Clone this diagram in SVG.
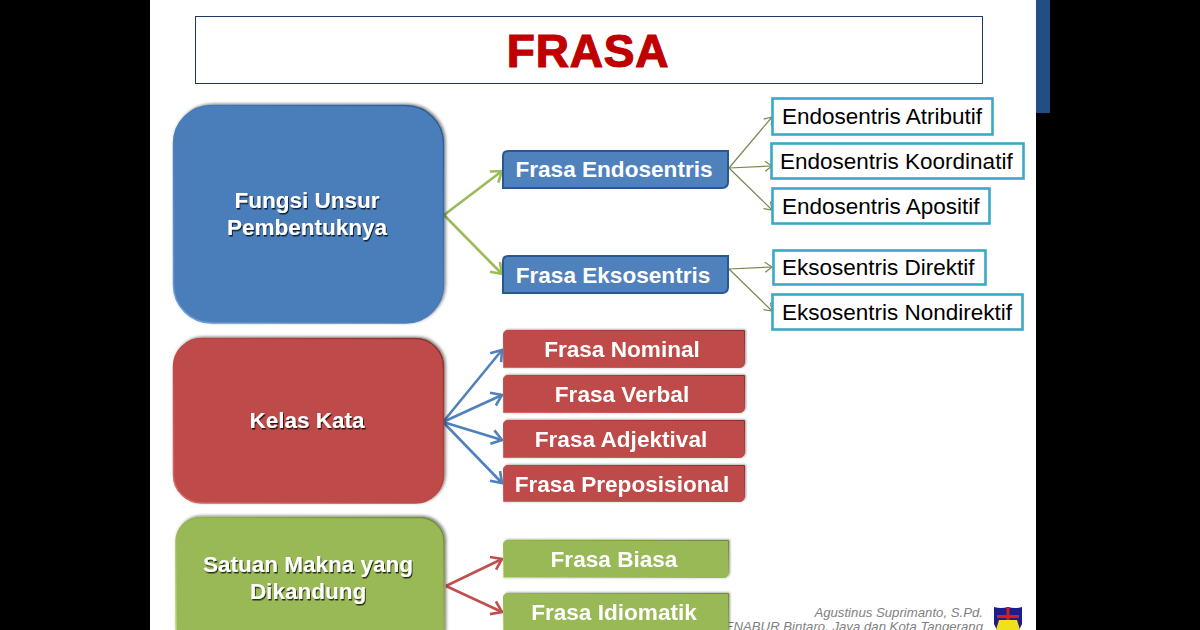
<svg xmlns="http://www.w3.org/2000/svg" width="1200" height="630" viewBox="0 0 1200 630">
<style>
.lbl{font-family:"Liberation Sans",Arial,sans-serif;font-weight:700;fill:#fff;text-anchor:middle;font-size:22.6px}
.big{font-size:22.5px;filter:url(#ts)}
.sub{font-family:"Liberation Sans",Arial,sans-serif;fill:#000;font-size:22.5px}
.cy{fill:#fff;stroke:#3aa9c6;stroke-width:2.6}
.foot{font-family:"Liberation Sans",Arial,sans-serif;font-style:italic;fill:#7f7f7f;font-size:13.2px;text-anchor:end}
.thin{stroke:#77864f;stroke-width:1.2;fill:none;marker-end:url(#open)}
.g{stroke:#9bbb59;stroke-width:2.6;fill:none;marker-end:url(#ag)}
.b{stroke:#4f81bd;stroke-width:2.6;fill:none;marker-end:url(#ab)}
.r{stroke:#c0504d;stroke-width:2.6;fill:none;marker-end:url(#ar)}
</style>
<defs>
<marker id="open" markerUnits="userSpaceOnUse" markerWidth="14" markerHeight="14" refX="11" refY="7" orient="auto"><path d="M4 2L11 7L4 12" fill="none" stroke="#77864f" stroke-width="1.2"/></marker>
<marker id="ag" markerUnits="userSpaceOnUse" markerWidth="16" markerHeight="18" refX="13" refY="9" orient="auto"><path d="M3 2L13 9L3 16" fill="none" stroke="#9bbb59" stroke-width="2.6"/></marker>
<marker id="ab" markerUnits="userSpaceOnUse" markerWidth="16" markerHeight="18" refX="13" refY="9" orient="auto"><path d="M3 2L13 9L3 16" fill="none" stroke="#4f81bd" stroke-width="2.6"/></marker>
<marker id="ar" markerUnits="userSpaceOnUse" markerWidth="16" markerHeight="18" refX="13" refY="9" orient="auto"><path d="M3 2L13 9L3 16" fill="none" stroke="#c0504d" stroke-width="2.6"/></marker>
<filter id="ts" x="-10%" y="-20%" width="120%" height="150%"><feDropShadow dx="1" dy="1.5" stdDeviation="0.7" flood-color="#000" flood-opacity="0.75"/></filter>
<filter id="sh" x="-5%" y="-10%" width="110%" height="120%"><feDropShadow dx="1.5" dy="-1" stdDeviation="1.5" flood-color="#000" flood-opacity="0.5"/></filter>
<filter id="sh2" x="-5%" y="-15%" width="110%" height="130%"><feDropShadow dx="1" dy="-0.5" stdDeviation="0.8" flood-color="#000" flood-opacity="0.4"/></filter>
<linearGradient id="eb" x1="0" y1="1" x2="1" y2="0"><stop offset="0" stop-color="#6a9fdc"/><stop offset=".45" stop-color="#4a7ebb"/><stop offset="1" stop-color="#2c5a8f"/></linearGradient>
<linearGradient id="er" x1="0" y1="1" x2="1" y2="0"><stop offset="0" stop-color="#d66a66"/><stop offset=".45" stop-color="#be4b48"/><stop offset="1" stop-color="#8d2f2c"/></linearGradient>
<linearGradient id="eg" x1="0" y1="1" x2="1" y2="0"><stop offset="0" stop-color="#bfe07c"/><stop offset=".45" stop-color="#98b954"/><stop offset="1" stop-color="#6f8a3a"/></linearGradient>
</defs>
<rect width="1200" height="630" fill="#000"/>
<rect x="150" y="0" width="886" height="630" fill="#fff"/>
<rect x="1036" y="0" width="14" height="113" fill="#224e84"/>
<text class="foot" x="983" y="617">Agustinus Suprimanto, S.Pd.</text>
<text class="foot" x="983" y="631">PENABUR Bintaro, Jaya dan Kota Tangerang</text>
<g id="title"><rect x="195.500" y="16.500" width="787" height="67" fill="#fff" stroke="#1f3668" stroke-width="1"/><text x="588" y="66.500" text-anchor="middle" font-family="Liberation Sans, Arial, sans-serif" font-weight="700" font-size="46" letter-spacing="0.8" fill="#c00000" stroke="#c00000" stroke-width="1.2">FRASA</text></g>
<g id="connectors">
<path class="g" d="M444 215L502 171"/><path class="g" d="M444 215L502 274"/>
<path class="b" d="M443 422L502 350"/><path class="b" d="M443 422L502 395"/><path class="b" d="M443 422L502 440"/><path class="b" d="M443 422L502 483"/>
<path class="r" d="M446 586L502 559"/><path class="r" d="M446 586L502 612"/>
<path class="thin" d="M729 168L772 117"/><path class="thin" d="M729 168L772 166"/><path class="thin" d="M729 168L772 210"/>
<path class="thin" d="M729 269L772 267"/><path class="thin" d="M729 269L772 311"/>
</g>
<g id="n-fungsi"><rect x="173.500" y="105.500" width="270" height="217.500" rx="38" fill="#4a7ebb" stroke="url(#eb)" stroke-width="1.5" filter="url(#sh)"/><text class="lbl big" x="307" y="208">Fungsi Unsur</text><text class="lbl big" x="307" y="235">Pembentuknya</text></g>
<g id="n-kelas"><rect x="173.500" y="338.500" width="270" height="164.500" rx="28" fill="#be4b48" stroke="url(#er)" stroke-width="1.5" filter="url(#sh)"/><text class="lbl big" x="307" y="428">Kelas Kata</text></g>
<g id="n-satuan"><rect x="176" y="517.500" width="268" height="135" rx="24" fill="#98b954" stroke="url(#eg)" stroke-width="1.5" filter="url(#sh)"/><text class="lbl big" x="308" y="572">Satuan Makna yang</text><text class="lbl big" x="308" y="599">Dikandung</text></g>
<g id="n-endo"><path d="M508 151H728V182Q728 188 722 188H503V156Q503 151 508 151Z" fill="#4f81bd" stroke="#27588f" stroke-width="2"/><text class="lbl" x="614" y="177">Frasa Endosentris</text></g>
<g id="n-ekso"><path d="M508 256H728V287Q728 293 722 293H503V261Q503 256 508 256Z" fill="#4f81bd" stroke="#27588f" stroke-width="2"/><text class="lbl" x="613" y="282.500">Frasa Eksosentris</text></g>
<g id="n-nominal" filter="url(#sh2)"><path d="M508 330.500H744.500V362Q744.500 367.500 739 367.500H503.500V335Q503.500 330.500 508 330.500Z" fill="#be4b48" stroke="url(#er)"/><text class="lbl" x="622" y="356.500">Frasa Nominal</text></g>
<g id="n-verbal" filter="url(#sh2)"><path d="M508 375.500H744.500V407Q744.500 412.500 739 412.500H503.500V380Q503.500 375.500 508 375.500Z" fill="#be4b48" stroke="url(#er)"/><text class="lbl" x="622" y="401.500">Frasa Verbal</text></g>
<g id="n-adjektival" filter="url(#sh2)"><path d="M508 420.500H744.500V452Q744.500 457.500 739 457.500H503.500V425Q503.500 420.500 508 420.500Z" fill="#be4b48" stroke="url(#er)"/><text class="lbl" x="621" y="446.500">Frasa Adjektival</text></g>
<g id="n-prepo" filter="url(#sh2)"><path d="M508 465.500H744.500V496Q744.500 501.500 739 501.500H503.500V470Q503.500 465.500 508 465.500Z" fill="#be4b48" stroke="url(#er)"/><text class="lbl" x="622" y="491.500">Frasa Preposisional</text></g>
<g id="n-biasa" filter="url(#sh2)"><path d="M508 540.500H728.500V572Q728.500 577.500 723 577.500H503.500V545Q503.500 540.500 508 540.500Z" fill="#98b954" stroke="url(#eg)"/><text class="lbl" x="614" y="566.500">Frasa Biasa</text></g>
<g id="n-idiomatik" filter="url(#sh2)"><path d="M508 593.500H728.500V640H503.500V598Q503.500 593.500 508 593.500Z" fill="#98b954" stroke="url(#eg)"/><text class="lbl" x="614" y="619.500">Frasa Idiomatik</text></g>
<g id="n-atributif"><rect class="cy" x="772.500" y="98.500" width="220" height="36"/><text class="sub" x="782" y="124">Endosentris Atributif</text></g>
<g id="n-koordinatif"><rect class="cy" x="771.500" y="143.500" width="252" height="35"/><text class="sub" x="780" y="169">Endosentris Koordinatif</text></g>
<g id="n-apositif"><rect class="cy" x="772.500" y="188.500" width="217" height="35"/><text class="sub" x="782" y="213.500">Endosentris Apositif</text></g>
<g id="n-direktif"><rect class="cy" x="773.500" y="250.500" width="212" height="34"/><text class="sub" x="782" y="275">Eksosentris Direktif</text></g>
<g id="n-nondirektif"><rect class="cy" x="772.500" y="294.500" width="250" height="35"/><text class="sub" x="782" y="320">Eksosentris Nondirektif</text></g>
<g id="logo"><path d="M994 607Q1001 609 1008 607Q1015 609 1022 607V624L1019 630H997L994 624Z" fill="#1c1c8c"/><rect x="1006.500" y="608" width="3" height="14" fill="#d02020"/><rect x="997" y="615" width="22" height="3" fill="#d02020"/><path d="M999 620H1017L1020 630H996Z" fill="#f0e020"/></g>
</svg>
